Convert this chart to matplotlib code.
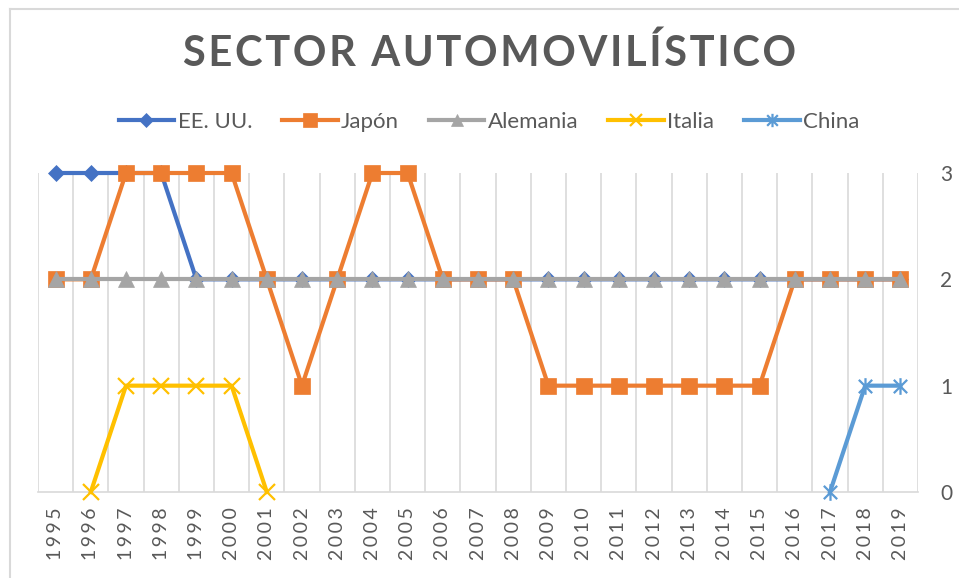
import numpy as np
import matplotlib.pyplot as plt
from matplotlib.path import Path
from matplotlib.lines import Line2D

plt.rcParams['font.family'] = ['Lato', 'DejaVu Sans']

years = list(range(1995, 2020))
nan = np.nan
eeuu = [3, 3, 3, 3, 2, 2, 2, 2, 2, 2, 2, 2, 2, 2, 2, 2, 2, 2, 2, 2, 2, 2, 2, 2, 2]
japon = [2, 2, 3, 3, 3, 3, 2, 1, 2, 3, 3, 2, 2, 2, 1, 1, 1, 1, 1, 1, 1, 2, 2, 2, 2]
alemania = [2] * 25
italia = [nan, 0, 1, 1, 1, 1, 0, nan, nan, nan, nan, nan, nan, nan, nan, nan,
          nan, nan, nan, nan, nan, nan, nan, nan, nan]
china = [nan] * 22 + [0, 1, 1]

TXT = '#595959'
GRID = '#D9D9D9'

# excel style star marker: an x with a vertical bar
star = Path([(-1, -1), (1, 1), (-1, 1), (1, -1), (0, -1.25), (0, 1.25)],
            [Path.MOVETO, Path.LINETO, Path.MOVETO, Path.LINETO, Path.MOVETO, Path.LINETO])

series = [
    ('EE. UU.', eeuu, '#4472C4', 'D', 8.5),
    ('Japón', japon, '#ED7D31', 's', 12),
    ('Alemania', alemania, '#A5A5A5', '^', 11),
    ('Italia', italia, '#FFC000', 'x', 11),
    ('China', china, '#5B9BD5', star, 12),
]

fig = plt.figure(figsize=(9.59, 5.78), dpi=100)
ax = fig.add_axes([38 / 959, 1 - 492 / 578, 880 / 959, 319 / 578])

x = np.arange(len(years))
handles = []
for name, vals, col, mk, ms in series:
    if mk in ('x',) or mk is star:
        kw = dict(markerfacecolor='none', markeredgecolor=col, markeredgewidth=1.6)
    else:
        kw = dict(markerfacecolor=col, markeredgecolor=col, markeredgewidth=0.5)
    ax.plot(x, vals, color=col, lw=3, marker=mk, markersize=ms, clip_on=False,
            zorder=3, **kw)
    handles.append(Line2D([], [], color=col, lw=3, marker=mk, markersize=ms * 0.8, **kw))

ax.set_xlim(-0.5, len(years) - 0.5)
ax.set_ylim(0, 3)
for b in np.arange(-0.5, len(years), 1.0):
    ax.axvline(b, color=GRID, lw=1.2, zorder=1)

ax.set_xticks(x)
ax.set_xticklabels(['\u2009'.join(str(y)) for y in years], rotation=90,
                   fontsize=14, color=TXT)
ax.yaxis.tick_right()
ax.set_yticks([0, 1, 2, 3])
ax.set_yticklabels(['0', '1', '2', '3'], fontsize=15, color=TXT)
ax.tick_params(axis='both', length=0)
ax.tick_params(axis='x', pad=11)
ax.tick_params(axis='y', pad=16)
for s in ['top', 'left', 'right']:
    ax.spines[s].set_visible(False)
ax.spines['bottom'].set_color(GRID)
ax.spines['bottom'].set_linewidth(1.2)

title = 'SECTOR AUTOMOVILÍSTICO'
fig.text(0.51, 1 - 53 / 578, '\u200a'.join(title), ha='center', va='center',
         fontsize=30, fontweight='bold', color=TXT)

fig.legend(handles, [s[0] for s in series], loc='center', ncol=5, frameon=False,
           bbox_to_anchor=(0.51, 1 - 122 / 578), fontsize=16, labelcolor=TXT,
           handlelength=2.5, handletextpad=0.15, columnspacing=1.35)

# chart area border (only top and left show in the crop)
fig.add_artist(Line2D([10 / 959, 10 / 959], [0, 1 - 9 / 578], color=GRID, lw=1.5))
fig.add_artist(Line2D([10 / 959, 1], [1 - 9 / 578, 1 - 9 / 578], color=GRID, lw=1.5))

fig.savefig('out.png', dpi=100)
